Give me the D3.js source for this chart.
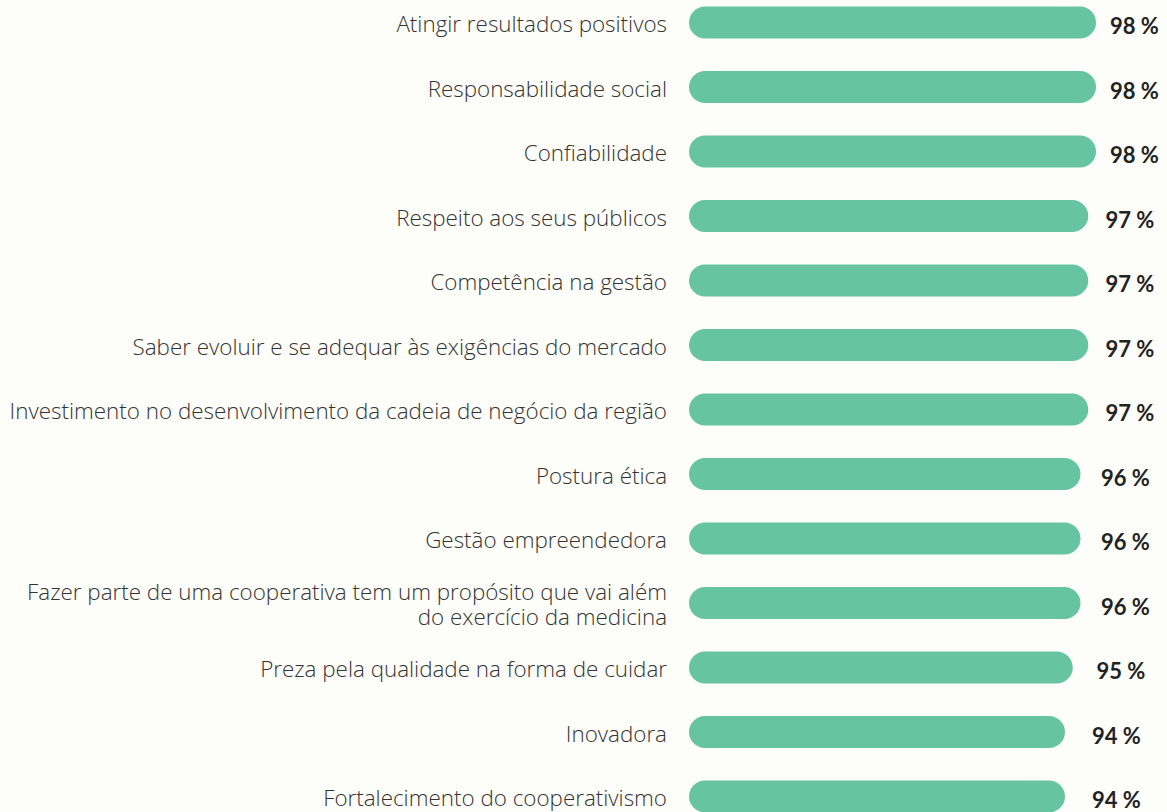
<!DOCTYPE html>
<html>
<head>
<meta charset="utf-8">
<script src="https://cdn.jsdelivr.net/npm/d3@7"></script>
<style>
  html, body { margin: 0; padding: 0; background: #fdfdfa; }
  svg { display: block; }
  .cat { font-family: "Open Sans", sans-serif; font-weight: 300; font-size: 22.4px; fill: #333; }
  .val { font-family: "Lato", sans-serif; font-weight: 700; font-size: 22px; fill: #222; }
</style>
</head>
<body>
<svg id="chart" width="1167" height="812"></svg>
<script>
// Attributes and share of agreement (%)
const categories = [
  ["Atingir resultados positivos"],
  ["Responsabilidade social"],
  ["Confiabilidade"],
  ["Respeito aos seus públicos"],
  ["Competência na gestão"],
  ["Saber evoluir e se adequar às exigências do mercado"],
  ["Investimento no desenvolvimento da cadeia de negócio da região"],
  ["Postura ética"],
  ["Gestão empreendedora"],
  ["Fazer parte de uma cooperativa tem um propósito que vai além", "do exercício da medicina"],
  ["Preza pela qualidade na forma de cuidar"],
  ["Inovadora"],
  ["Fortalecimento do cooperativismo"]
];
const values = [98, 98, 98, 97, 97, 97, 97, 96, 96, 96, 95, 94, 94];
const valueLabels = values.map(v => v + " %");

const svg = d3.select("#chart");
const rows = categories.map((c, i) => i);

const y = d3.scaleBand()
  .domain(rows)
  .range([-9.75, 828.75])
  .paddingInner(0.5)
  .paddingOuter(0.25);

const x = d3.scaleLinear().domain([45.5, 98]).range([689, 1096]);
const xLabel = d3.scaleLinear().domain([94, 98]).range([1092, 1110]);

const barH = 32;
const cy = i => y(i) + y.bandwidth() / 2;

// Bars (pill-shaped)
svg.append("g").selectAll("rect")
  .data(values)
  .join("rect")
  .attr("x", x(45.5))
  .attr("y", (d, i) => cy(i) - barH / 2)
  .attr("width", d => x(d) - x(45.5))
  .attr("height", barH)
  .attr("rx", barH / 2)
  .attr("fill", "#66c4a0");

// Category labels, right-aligned left of the bars
const cat = svg.append("g").selectAll("text")
  .data(categories)
  .join("text")
  .attr("class", "cat")
  .attr("text-anchor", "end")
  .attr("x", 667)
  .attr("y", (d, i) => cy(i) + 9.5 - (d.length - 1) * 12.5);
cat.selectAll("tspan")
  .data(d => d)
  .join("tspan")
  .attr("x", 667)
  .attr("dy", (d, j) => j === 0 ? 0 : 25)
  .text(d => d);

// Value labels
svg.append("g").selectAll("text")
  .data(values)
  .join("text")
  .attr("class", "val")
  .attr("x", d => xLabel(d))
  .attr("y", (d, i) => cy(i) + 11.5)
  .text((d, i) => valueLabels[i]);
</script>
</body>
</html>
